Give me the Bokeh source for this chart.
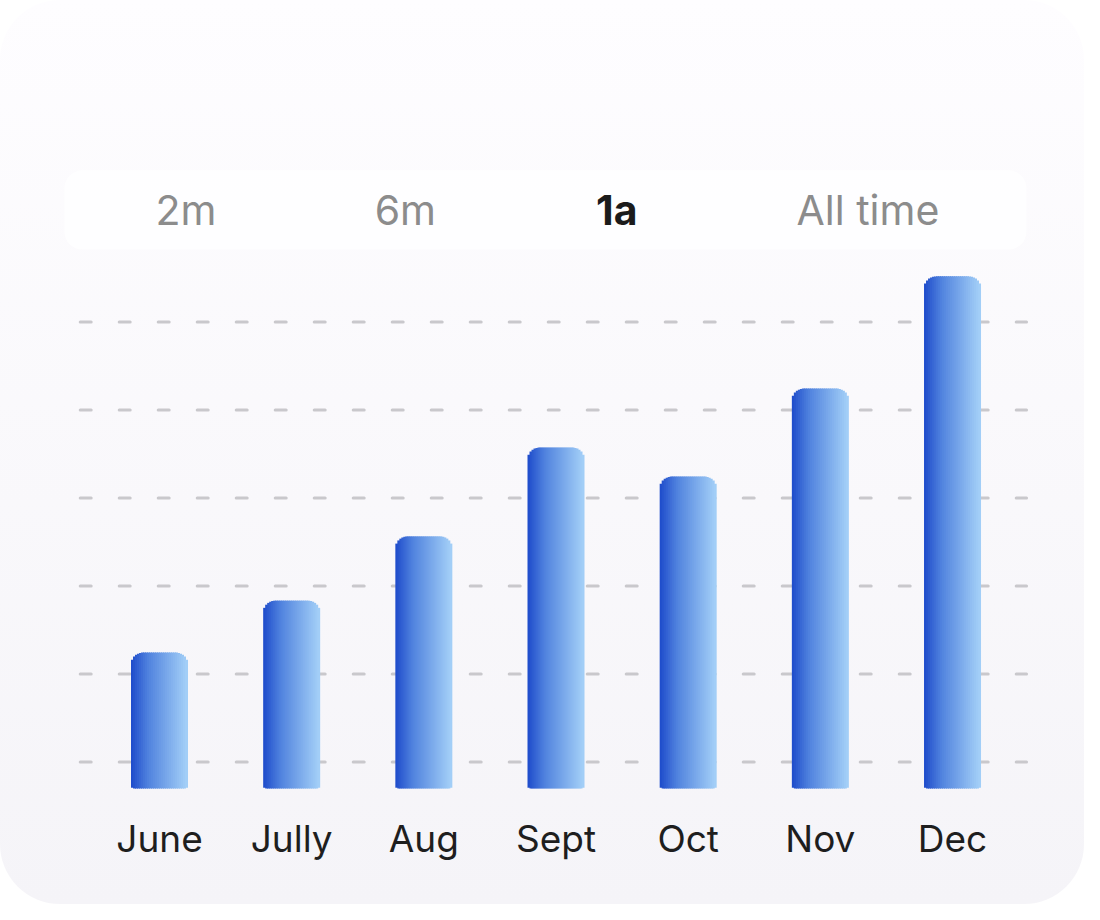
from bokeh.plotting import figure
from bokeh.models import ColumnDataSource, Range1d
from bokeh.core.properties import value
from bokeh.embed import file_html
from bokeh.resources import INLINE
import math

# data
months = ["June", "Jully", "Aug", "Sept", "Oct", "Nov", "Dec"]
totals = [30.9, 42.7, 57.3, 77.5, 70.9, 90.9, 116.4]
grid_levels = [6, 26, 46, 66, 86, 106]
tabs = ["2m", "6m", "1a", "All time"]
tab_pos = [0.2, 1.86, 3.46, 5.36]
active_tab = "1a"

W, H = 1084, 904
px_x = 132.17   # pixels per category step
px_y = 4.4      # pixels per value unit
x0_px, y0_px = 159, 116

p = figure(width=W, height=H, output_backend="svg", toolbar_location=None,
           x_range=Range1d(-x0_px / px_x, (W - x0_px) / px_x),
           y_range=Range1d(-y0_px / px_y, (H - y0_px) / px_y),
           min_border=0, outline_line_color=None)
p.axis.visible = False
p.grid.visible = False
p.background_fill_alpha = 0
p.border_fill_alpha = 0
p.styles = {"border-radius": "60px",
            "background": "linear-gradient(180deg, #fefdff 0%, #f5f4f8 100%)"}

# faint tab box
p.quad(left=[-0.72], right=[6.56], top=[140.5], bottom=[122.5],
       fill_color="white", fill_alpha=0.75, line_color=None, border_radius=18)

# tabs
for t, xp in zip(tabs, tab_pos):
    active = t == active_tab
    p.text(x=[xp], y=[131.4], text=[t], text_align="center", text_baseline="middle",
           text_font=value("Inter"), text_font_size="41px",
           text_font_style="bold" if active else "normal",
           text_color="#1b1b1b" if active else "#8c8c8c")

# dashed grid
n_lv = len(grid_levels)
p.segment(x0=[-0.6] * n_lv, x1=[6.56] * n_lv, y0=grid_levels, y1=grid_levels,
          line_color="#c9c8cc", line_width=3, line_dash="11 28", line_cap="round")

# bars with a horizontal gradient, built from thin slices
def grad(t):
    stops = [(0.0, (32, 78, 204)), (0.3, (80, 130, 222)), (1.0, (162, 206, 247))]
    for (a, ca), (b, cb) in zip(stops, stops[1:]):
        if t <= b:
            f = (t - a) / (b - a)
            c = [round(ca[j] + (cb[j] - ca[j]) * f) for j in range(3)]
            return "#%02x%02x%02x" % tuple(c)
    return "#%02x%02x%02x" % stops[-1][1]

bar_px = 56
n = 28
r_top, r_bot = 12, 3
bw = bar_px / px_x
sx, st, sb, sw, sc = [], [], [], [], []
for i, v in enumerate(totals):
    for k in range(n):
        e = (k + 0.5) * bar_px / n
        e = min(e, bar_px - e)
        d_top = r_top - math.sqrt(r_top ** 2 - (r_top - e) ** 2) if e < r_top else 0
        d_bot = r_bot - math.sqrt(r_bot ** 2 - (r_bot - e) ** 2) if e < r_bot else 0
        sx.append(i - bw / 2 + (k + 0.5) * bw / n)
        st.append(v - d_top / px_y)
        sb.append(d_bot / px_y)
        sw.append(bw / n * 1.5)
        sc.append(grad(k / (n - 1)))
src = ColumnDataSource(dict(x=sx, top=st, bottom=sb, width=sw, color=sc))
p.vbar(x="x", top="top", bottom="bottom", width="width", source=src,
       fill_color="color", line_color=None)

# month labels
p.text(x=list(range(len(months))), y=[-11.4] * len(months), text=months,
       text_align="center", text_baseline="middle",
       text_font=value("Inter"), text_font_size="37px", text_color="#1e1e1e")

open("out.html", "w").write(file_html(p, INLINE))
